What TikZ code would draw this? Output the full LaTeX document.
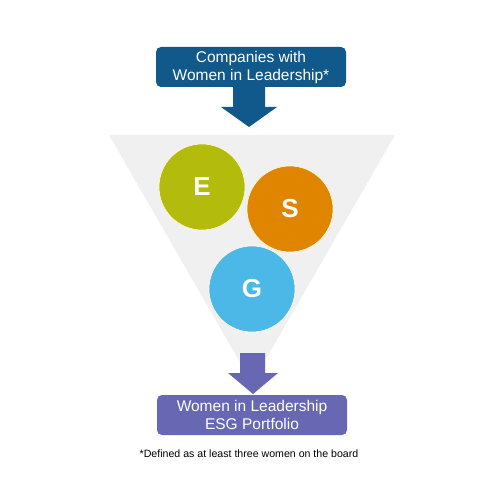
\documentclass[tikz,border=0pt]{standalone}
\usepackage{fontspec}
\setmainfont{Liberation Sans}
\definecolor{topblue}{HTML}{10598A}
\definecolor{botpurple}{HTML}{6767B3}
\definecolor{funnelgray}{HTML}{F0F0F0}
\definecolor{ecol}{HTML}{B3BC0C}
\definecolor{scol}{HTML}{DF8500}
\definecolor{gcol}{HTML}{4BB8E8}
\begin{document}
\begin{tikzpicture}[x=1pt,y=-1pt,
  boxstyle/.style={rounded corners=5pt, minimum width=190pt, minimum height=40pt, align=center, text=white, font=\fontsize{15.5}{18}\selectfont, inner sep=0pt},
  ball/.style={circle, minimum size=86pt, inner sep=0pt, draw=white!85!yellow, line width=0.6pt, text=white, font=\fontsize{26}{30}\selectfont\bfseries}]
\useasboundingbox (0,0) rectangle (498,502);
\fill[white] (0,0) rectangle (498,502);
% funnel
\fill[funnelgray] (109,135) -- (395,135) -- (252,383) -- cycle;
% top box and arrow
\node[boxstyle, fill=topblue] (top) at (251,67) {Companies with\\Women in Leadership*};
\coordinate (ttip) at (249,127);
\fill[topblue] (233,86) -- (265,86) -- (265,107) -- (277,107) -- (ttip) -- (221,107) -- (233,107) -- cycle;
% balls
\node[ball, fill=ecol] (E) at (202,187) {E};
\node[ball, fill=scol] (S) at (290,209) {S};
\node[ball, fill=gcol] (G) at (252,289) {G};
% bottom arrow and box
\node[boxstyle, fill=botpurple] (bot) at (252,415) {Women in Leadership\\ESG Portfolio};
\coordinate (btip) at (253,394);
\fill[botpurple] (240,353) -- (265,353) -- (265,373) -- (278,373) -- (btip) -- (228,373) -- (240,373) -- cycle;
% footnote
\node[font=\fontsize{10.6}{12}\selectfont, inner sep=0pt] (foot) at (249,454) {*Defined as at least three women on the board};
\end{tikzpicture}
\end{document}
